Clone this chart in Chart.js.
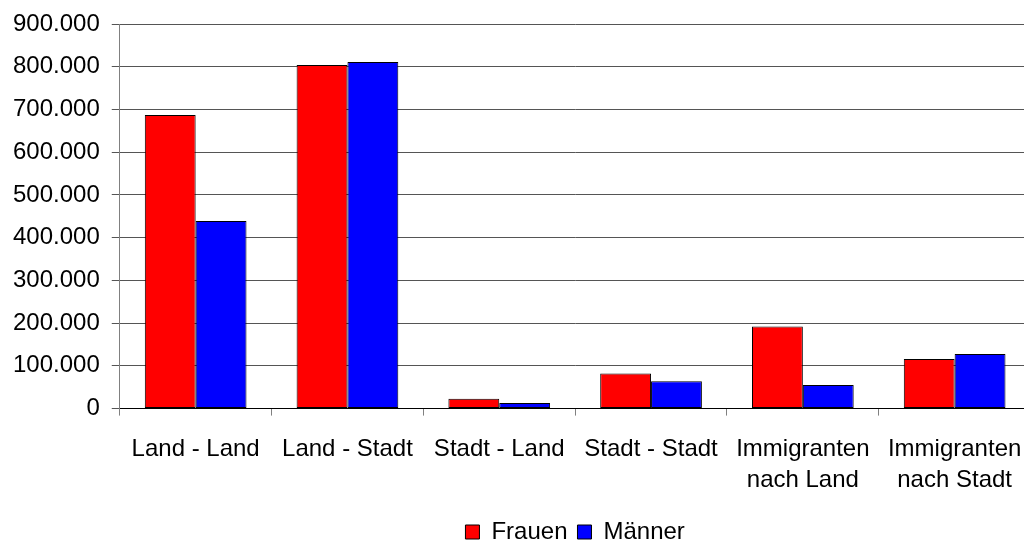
<!DOCTYPE html>
<html>
<head>
<meta charset="utf-8">
<script src="https://cdn.jsdelivr.net/npm/chart.js@4/dist/chart.umd.min.js"></script>
<style>
  html, body { margin: 0; padding: 0; overflow: hidden; background: #fff; }
  #wrap { width: 1040px; height: 558px; }
</style>
</head>
<body>
<div id="wrap"><canvas id="chart" width="1040" height="558"></canvas></div>
<script>
var categories = [
  "Land - Land",
  "Land - Stadt",
  "Stadt - Land",
  "Stadt - Stadt",
  ["Immigranten", "nach Land"],
  ["Immigranten", "nach Stadt"]
];
var frauen = [687000, 804000, 23000, 82000, 192000, 116000];
var maenner = [439000, 811000, 13000, 64000, 55000, 128000];
var yMax = 900000;
var yStep = 100000;

// legend centered on the plot area, like the original
var legendShift = {
  id: "legendShift",
  afterLayout: function(chart) {
    var lg = chart.legend;
    var area = chart.chartArea;
    lg.left = area.left;
    lg.right = area.right;
    lg.width = area.right - area.left;
    lg.top -= 4;
    lg.bottom -= 4;
  }
};

Chart.defaults.font.family = "'Liberation Sans', Arial, sans-serif";
Chart.defaults.font.size = 24;
Chart.defaults.color = "#000";

var ctx = document.getElementById("chart").getContext("2d");
var myChart = new Chart(ctx, {
  type: "bar",
  data: {
    labels: categories,
    datasets: [
      {
        label: "Frauen",
        data: frauen,
        backgroundColor: "#ff0000",
        borderColor: "#000",
        borderWidth: 1,
        borderSkipped: false,
        categoryPercentage: 0.67,
        barPercentage: 1
      },
      {
        label: "Männer",
        data: maenner,
        backgroundColor: "#0000ff",
        borderColor: "#000",
        borderWidth: 1,
        borderSkipped: false,
        categoryPercentage: 0.67,
        barPercentage: 1
      }
    ]
  },
  options: {
    responsive: false,
    animation: false,
    layout: { padding: { top: 0, right: 8, left: 1, bottom: 0 } },
    plugins: {
      tooltip: { enabled: false },
      legend: {
        position: "bottom",
        labels: {
          boxWidth: 14,
          boxHeight: 14,
          padding: 10,
          color: "#000",
          font: { size: 24 }
        }
      }
    },
    scales: {
      x: {
        offset: true,
        grid: {
          offset: true,
          drawOnChartArea: false,
          color: "#808080",
          tickLength: 7
        },
        border: { color: "#000", width: 1 },
        ticks: {
          padding: 18,
          maxRotation: 0,
          autoSkip: false,
          font: { size: 24, lineHeight: 1.3 }
        }
      },
      y: {
        min: 0,
        max: yMax,
        grid: { color: "#555", tickLength: 8 },
        border: { color: "#808080", width: 1 },
        ticks: {
          stepSize: yStep,
          padding: 12,
          font: { size: 24, lineHeight: 1 },
          callback: function(v) {
            return String(v).replace(/\B(?=(\d{3})+(?!\d))/g, ".");
          }
        }
      }
    }
  },
  plugins: [legendShift]
});
</script>
</body>
</html>
